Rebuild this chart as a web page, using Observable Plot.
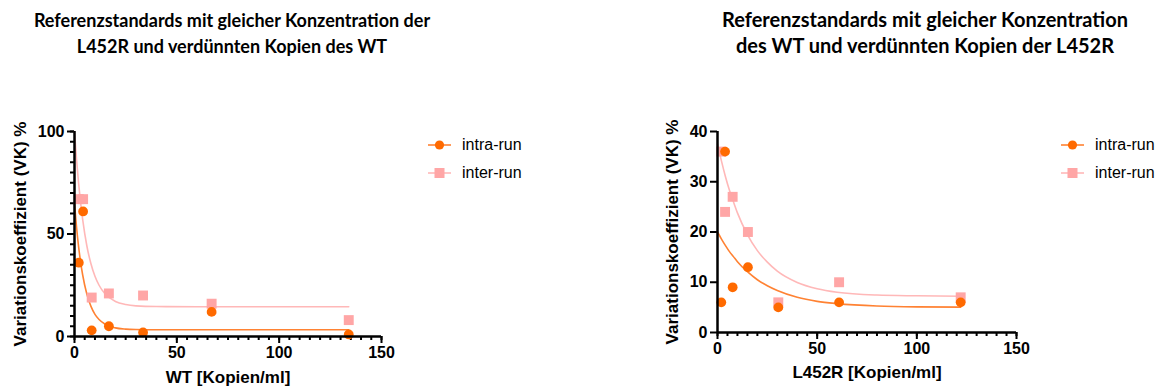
<!DOCTYPE html>
<html>
<head>
<meta charset="utf-8">
<script src="https://cdn.jsdelivr.net/npm/d3@7"></script>
<script src="https://cdn.jsdelivr.net/npm/@observablehq/plot@0.6"></script>
<style>
  html, body { margin: 0; padding: 0; background: #fff; }
  body { width: 1163px; height: 388px; overflow: hidden; position: relative; font-family: "Liberation Sans", Arial, sans-serif; }
  .title { position: absolute; font-family: Lato, "Open Sans", sans-serif; font-weight: 700; font-size: 18px; line-height: 26px; text-align: center; color: #000; white-space: nowrap; }
  .panel { position: absolute; top: 110px; }
  .legend-item { position: absolute; height: 20px; display: flex; align-items: center; font-size: 16px; color: #000; white-space: nowrap; }
  .legend-item svg { margin-right: 11px; }
</style>
</head>
<body>
<div class="title" style="left:32px; width:400px; top:7px;">Referenzstandards mit gleicher Konzentration der<br>L452R und verdünnten Kopien des WT</div>
<div class="title" style="left:705px; width:440px; top:6px; font-size:20px;">Referenzstandards mit gleicher Konzentration<br>des WT und verdünnten Kopien der L452R</div>
<div class="panel" id="left" style="left:0px;"></div>
<div class="panel" id="right" style="left:581px;"></div>
<script>
// ---------- data ----------
const seriesNames = ["intra-run", "inter-run"];
const yTitle = "Variationskoeffizient (VK) %";

// Left panel: constant L452R, diluted WT
const wtLabel = "WT [Kopien/ml]";
const wtX = [2.1, 4.2, 8.4, 16.8, 33.5, 67, 134];
const wtIntra = [36, 61, 3, 5, 2, 12, 1];
const wtInter = [67, 67, 19, 21, 20, 16, 8];
const wtFitX = [0, 1, 2, 3, 4, 6, 8, 10, 12, 15, 20, 25, 30, 40, 60, 134];
const wtFitIntra = [65, 53.3, 43.8, 36.2, 30.0, 20.8, 14.8, 10.8, 8.3, 5.95, 4.2, 3.6, 3.4, 3.3, 3.3, 3.3];
const wtFitInter = [100, 86.3, 74.8, 65.1, 57.0, 44.4, 35.6, 29.4, 25.0, 20.7, 17.1, 15.6, 14.95, 14.6, 14.5, 14.5];
const wtXTicks = [0, 50, 100, 150];
const wtXMinor = d3.range(0, 151, 5);
const wtYTicks = [0, 50, 100];
const wtYMinor = d3.range(0, 101, 5);

// Right panel: constant WT, diluted L452R
const lLabel = "L452R [Kopien/ml]";
const lX = [1.9, 3.8, 7.6, 15.25, 30.5, 61, 122];
const lIntra = [6, 36, 9, 13, 5, 6, 6];
const lInter = [36, 24, 27, 20, 6, 10, 7];
const lFitX = [0, 2, 4, 6, 8, 10, 15, 20, 25, 30, 40, 50, 60, 80, 100, 122];
const lFitIntra = [20, 18.6, 17.3, 16.1, 15.1, 14.1, 12.1, 10.5, 9.3, 8.35, 7.0, 6.2, 5.75, 5.27, 5.1, 5.05];
const lFitInter = [37.5, 34.1, 31.0, 28.3, 26.0, 23.8, 19.5, 16.3, 14.0, 12.2, 9.95, 8.7, 8.0, 7.45, 7.3, 7.2];
const lXTicks = [0, 50, 100, 150];
const lXMinor = d3.range(0, 151, 5);
const lYTicks = [0, 10, 20, 30, 40];

// ---------- style ----------
const orange = "#ff6a00";
const orangeLine = "#ff8233";
const pink = "#ffa6a6";
const pinkLine = "#ffb8b8";
const font = "'Liberation Sans', Arial, sans-serif";

function makePanel(o) {
  return Plot.plot({
    width: o.width, height: 278,
    marginLeft: o.ml, marginRight: o.mr, marginTop: 21, marginBottom: o.mb,
    x: {domain: [0, 150]},
    y: {domain: [0, o.yMax]},
    style: {fontFamily: font, color: "#000", background: "transparent", overflow: "visible"},
    marks: [
      o.yMinor ? Plot.axisY({ticks: o.yMinor, tickSize: 4, tickFormat: () => "", label: null, strokeWidth: 2}) : null,
      Plot.axisY({ticks: o.yTicks, tickSize: 7, tickPadding: 3, fontSize: 16, fontWeight: "bold", label: null, strokeWidth: 2}),
      Plot.axisX({ticks: o.xMinor, tickSize: 4, tickFormat: () => "", label: null, strokeWidth: 2}),
      Plot.axisX({ticks: o.xTicks, tickSize: 7, tickPadding: 3, fontSize: 16, fontWeight: "bold", label: null, strokeWidth: 2}),
      Plot.text([yTitle], {frameAnchor: "left", rotate: -90, dx: -o.yLabelOff, lineAnchor: "top", textAnchor: "middle", text: d => d, fontSize: 17, fontWeight: "bold", fill: "#000"}),
      Plot.text([o.xLabel], {frameAnchor: "bottom", dy: o.xLabelOff, lineAnchor: "bottom", textAnchor: "middle", text: d => d, fontSize: 17, fontWeight: "bold", fill: "#000"}),
      Plot.line(o.fitX, {x: o.fitX, y: o.fitInter, stroke: pinkLine, strokeWidth: 1.6, curve: "monotone-x"}),
      Plot.line(o.fitX, {x: o.fitX, y: o.fitIntra, stroke: orangeLine, strokeWidth: 1.6, curve: "monotone-x"}),
      Plot.dot(o.xs, {x: o.xs, y: o.inter, symbol: "square", r: 5.6, fill: pink, stroke: "none"}),
      Plot.dot(o.xs, {x: o.xs, y: o.intra, symbol: "circle", r: 4.9, fill: orange, stroke: "none"}),
      Plot.ruleX([0], {stroke: "#000", strokeWidth: 2.5}),
      Plot.ruleY([0], {stroke: "#000", strokeWidth: 2.5})
    ]
  });
}

document.getElementById("left").appendChild(makePanel({
  width: 580, ml: 74, mr: 199, mb: 52, yMax: 100,
  yTicks: wtYTicks, yMinor: wtYMinor, xTicks: wtXTicks, xMinor: wtXMinor,
  xs: wtX, intra: wtIntra, inter: wtInter,
  fitX: wtFitX, fitIntra: wtFitIntra, fitInter: wtFitInter,
  xLabel: wtLabel, yLabelOff: 61, xLabelOff: 46
}));

document.getElementById("right").appendChild(makePanel({
  width: 582, ml: 136, mr: 147, mb: 56, yMax: 40,
  yTicks: lYTicks, yMinor: null, xTicks: lXTicks, xMinor: lXMinor,
  xs: lX, intra: lIntra, inter: lInter,
  fitX: lFitX, fitIntra: lFitIntra, fitInter: lFitInter,
  xLabel: lLabel, yLabelOff: 52, xLabelOff: 45
}));

// ---------- legends ----------
function legend(left, top, name, i) {
  const div = document.createElement("div");
  div.className = "legend-item";
  div.style.left = left + "px";
  div.style.top = (top - 10) + "px";
  const svg = d3.create("svg").attr("width", 23).attr("height", 12);
  svg.append("line").attr("x1", 0).attr("x2", 23).attr("y1", 6).attr("y2", 6)
    .attr("stroke", i === 0 ? orangeLine : pinkLine).attr("stroke-width", 1.6);
  if (i === 0) svg.append("circle").attr("cx", 11.5).attr("cy", 6).attr("r", 4.6).attr("fill", orange);
  else svg.append("rect").attr("x", 6.5).attr("y", 1).attr("width", 10).attr("height", 10).attr("fill", pink);
  div.appendChild(svg.node());
  const span = document.createElement("span");
  span.textContent = name;
  div.appendChild(span);
  document.body.appendChild(div);
}
seriesNames.forEach((n, i) => {
  legend(428, 145 + i * 27.5, n, i);
  legend(1061, 145 + i * 27.5, n, i);
});
</script>
</body>
</html>
